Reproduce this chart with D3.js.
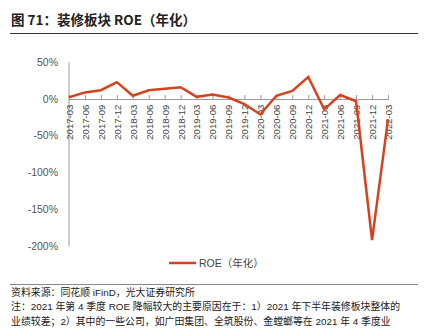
<!DOCTYPE html>
<html><head><meta charset="utf-8">
<script src="https://cdn.jsdelivr.net/npm/d3@7"></script>
<style>body{margin:0;background:#fff;} svg{display:block;}</style>
</head><body>
<svg id="c" width="430" height="330"></svg>
<script>
const categories = ["2017-03","2017-06","2017-09","2017-12","2018-03","2018-06","2018-09","2018-12","2019-03","2019-06","2019-09","2019-12","2020-03","2020-06","2020-09","2020-12","2021-03","2021-06","2021-09","2021-12","2022-03"];
const roe = [2.5, 9, 12, 23, 4.5, 12, 14, 16, 3, 6, 2, -7, -21, 4.5, 11, 30, -14, 5.5, -3, -192, -28];
const yTicks = [50, 0, -50, -100, -150, -200];
const seriesName = "ROE（年化）";
const title = "图 71：装修板块 ROE（年化）";
const notes = ["资料来源：同花顺 iFinD，光大证券研究所",
  "注：2021 年第 4 季度 ROE 降幅较大的主要原因在于：1）2021 年下半年装修板块整体的",
  "业绩较差；2）其中的一些公司，如广田集团、全筑股份、金螳螂等在 2021 年 4 季度业"];

const svg = d3.select("#c");
const font = "'Liberation Sans', Arial, 'Noto Sans CJK SC', sans-serif";
const cjk = "'Noto Sans CJK SC', sans-serif";
const color = "#D5431E";

svg.append("text").attr("x", 11).attr("y", 25).attr("font-family", cjk)
  .attr("font-weight", "bold").attr("font-size", 13.5).attr("fill", "#222").text(title);
svg.append("line").attr("x1", 10).attr("x2", 418).attr("y1", 33.5).attr("y2", 33.5)
  .attr("stroke", "#333").attr("stroke-width", 1);

const x = d3.scalePoint().domain(categories).range([69, 388]);
const y = d3.scaleLinear().domain([-200, 50]).range([246, 62.3]);

// y axis
svg.append("line").attr("x1", 69).attr("x2", 69).attr("y1", y(50)).attr("y2", y(-200))
  .attr("stroke", "#999").attr("stroke-width", 1);
svg.append("g").selectAll("text").data(yTicks).join("text")
  .attr("x", 58).attr("y", d => y(d)).attr("dy", "0.35em").attr("text-anchor", "end")
  .attr("font-family", font).attr("font-size", 10.5).attr("fill", "#555")
  .text(d => d + "%");

// x axis at 0
const xa = svg.append("g").attr("transform", `translate(0,${y(0)})`)
  .call(d3.axisBottom(x).tickSize(-4).tickPadding(3));
xa.select(".domain").attr("stroke", "#999");
xa.selectAll(".tick line").attr("stroke", "#999");
xa.selectAll(".tick text").attr("font-family", font).attr("font-size", 9.6).attr("fill", "#444")
  .attr("transform", "rotate(-90)").attr("text-anchor", "end").attr("dy", "0.35em")
  .attr("x", -5.5).attr("y", 0);

// line
svg.append("path").datum(roe)
  .attr("d", d3.line().x((d, i) => x(categories[i])).y(d => y(d)))
  .attr("fill", "none").attr("stroke", color).attr("stroke-width", 2.5)
  .attr("stroke-linejoin", "miter");

// legend
svg.append("line").attr("x1", 169).attr("x2", 196).attr("y1", 263).attr("y2", 263)
  .attr("stroke", color).attr("stroke-width", 2.5);
svg.append("text").attr("x", 199).attr("y", 263).attr("dy", "0.35em")
  .attr("font-family", font).attr("font-size", 10.5).attr("fill", "#444").text(seriesName);

// bottom rule and notes
svg.append("line").attr("x1", 10).attr("x2", 418).attr("y1", 284.5).attr("y2", 284.5)
  .attr("stroke", "#888").attr("stroke-width", 1.2);
svg.append("g").selectAll("text").data(notes).join("text")
  .attr("x", 11).attr("y", (d, i) => 292.5 + i * 14.4).attr("dy", "0.35em")
  .attr("font-family", font).attr("font-size", 9.9).attr("fill", "#222").text(d => d);
</script>
</body></html>
